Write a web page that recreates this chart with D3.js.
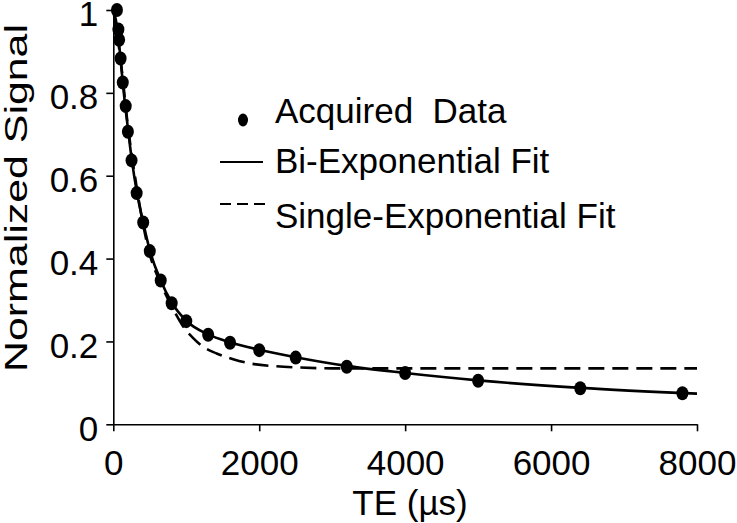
<!DOCTYPE html>
<html>
<head>
<meta charset="utf-8">
<script src="https://cdn.jsdelivr.net/npm/d3@7"></script>
<style>
  body { margin: 0; background: #fff; }
  text { font-family: "Liberation Sans", Arial, sans-serif; fill: #000; }
</style>
</head>
<body>
<div id="chart"></div>
<script>
// acquired data (TE in us, normalized signal)
var dataTE =     [50, 70, 80, 100, 130, 170, 200, 250, 320, 410, 500, 650, 800, 1000, 1300, 1600, 2000, 2500, 3200, 4000, 5000, 6400, 7800];
var dataSignal = [1.0, 0.953, 0.928, 0.883, 0.825, 0.768, 0.706, 0.637, 0.558, 0.487, 0.418, 0.347, 0.292, 0.249, 0.216, 0.197, 0.179, 0.161, 0.139, 0.124, 0.105, 0.087, 0.075];

// bi-exponential fit
var biTE =     [0, 60, 100, 150, 200, 250, 325, 410, 500, 650, 800, 1000, 1300, 1600, 2000, 2500, 3200, 4000, 5000, 6400, 8000];
var biSignal = [1.0, 0.95, 0.88, 0.79, 0.715, 0.643, 0.558, 0.487, 0.42, 0.347, 0.294, 0.25, 0.217, 0.198, 0.18, 0.162, 0.141, 0.124, 0.106, 0.088, 0.074];

// single-exponential fit
var singleTE =     [0, 100, 200, 300, 400, 500, 650, 845, 958, 1095, 1232, 1416, 1643, 1871, 2237, 2556, 3000, 8000];
var singleSignal = [1.0, 0.88, 0.72, 0.595, 0.49, 0.41, 0.34, 0.27, 0.236, 0.208, 0.187, 0.171, 0.157, 0.147, 0.14, 0.137, 0.135, 0.135];

var xTicks = [0, 2000, 4000, 6000, 8000];
var yTicks = [0, 0.2, 0.4, 0.6, 0.8, 1];
var legendLabels = ['Acquired  Data', 'Bi-Exponential Fit', 'Single-Exponential Fit'];

var width = 737, height = 523;
var margin = {left: 113.3, right: 40, top: 10, bottom: 98.7};

var svg = d3.select('#chart').append('svg')
  .attr('width', width)
  .attr('height', height);

var x = d3.scaleLinear()
  .domain([0, 8000])
  .range([margin.left, width - margin.right]);

var y = d3.scaleLinear()
  .domain([0, 1])
  .range([height - margin.bottom, margin.top]);

// axes
var xAxis = svg.append('g')
  .attr('transform', 'translate(0,' + y(0) + ')')
  .call(d3.axisBottom(x).tickValues(xTicks).tickSize(7).tickSizeOuter(0).tickFormat(d3.format('d')));
xAxis.selectAll('text').attr('y', 50.7).attr('dy', null).style('font-size', '35px');

var yAxis = svg.append('g')
  .attr('transform', 'translate(' + x(0) + ',0)')
  .call(d3.axisLeft(y).tickValues(yTicks).tickSize(7).tickSizeOuter(0).tickFormat(function(d) { return d; }));
yAxis.selectAll('text').attr('x', -15).attr('dy', '0.45em').style('font-size', '35px');

svg.selectAll('.domain, .tick line').attr('stroke', '#000').attr('stroke-width', 1.6);

// axis titles
svg.append('text')
  .attr('x', 410)
  .attr('y', 515)
  .attr('text-anchor', 'middle')
  .style('font-size', '35px')
  .text('TE (µs)');

svg.append('text')
  .attr('transform', 'translate(26.5,198) rotate(-90)')
  .attr('text-anchor', 'middle')
  .attr('textLength', 348)
  .attr('lengthAdjust', 'spacingAndGlyphs')
  .style('font-size', '31px')
  .text('Normalized Signal');

// fit lines
var line = d3.line()
  .x(function(d) { return x(d[0]); })
  .y(function(d) { return y(d[1]); })
  .curve(d3.curveMonotoneX);

var biPts = d3.zip(biTE, biSignal);
var singlePts = d3.zip(singleTE, singleSignal);

svg.append('path')
  .datum(singlePts)
  .attr('d', line)
  .attr('fill', 'none')
  .attr('stroke', '#000')
  .attr('stroke-width', 2.6)
  .attr('stroke-dasharray', '16,8');

svg.append('path')
  .datum(biPts)
  .attr('d', line)
  .attr('fill', 'none')
  .attr('stroke', '#000')
  .attr('stroke-width', 2.6);

// data points
svg.selectAll('ellipse.pt')
  .data(d3.zip(dataTE, dataSignal))
  .enter()
  .append('ellipse')
  .attr('class', 'pt')
  .attr('cx', function(d) { return x(d[0]); })
  .attr('cy', function(d) { return y(d[1]); })
  .attr('rx', 6)
  .attr('ry', 7)
  .style('fill', '#000');

// legend
var legend = svg.append('g');
legend.append('ellipse')
  .attr('cx', 243).attr('cy', 120)
  .attr('rx', 5).attr('ry', 6.5)
  .style('fill', '#000');
legend.append('line')
  .attr('x1', 220).attr('x2', 263).attr('y1', 162).attr('y2', 162)
  .attr('stroke', '#000').attr('stroke-width', 2);
legend.append('line')
  .attr('x1', 220).attr('x2', 267).attr('y1', 204).attr('y2', 204)
  .attr('stroke', '#000').attr('stroke-width', 2)
  .attr('stroke-dasharray', '11,6');

legend.selectAll('text')
  .data(legendLabels)
  .enter()
  .append('text')
  .attr('x', 275)
  .attr('y', function(d, i) { return [123, 173, 228][i]; })
  .style('font-size', '35px')
  .style('white-space', 'pre')
  .text(function(d) { return d; });
</script>
</body>
</html>
